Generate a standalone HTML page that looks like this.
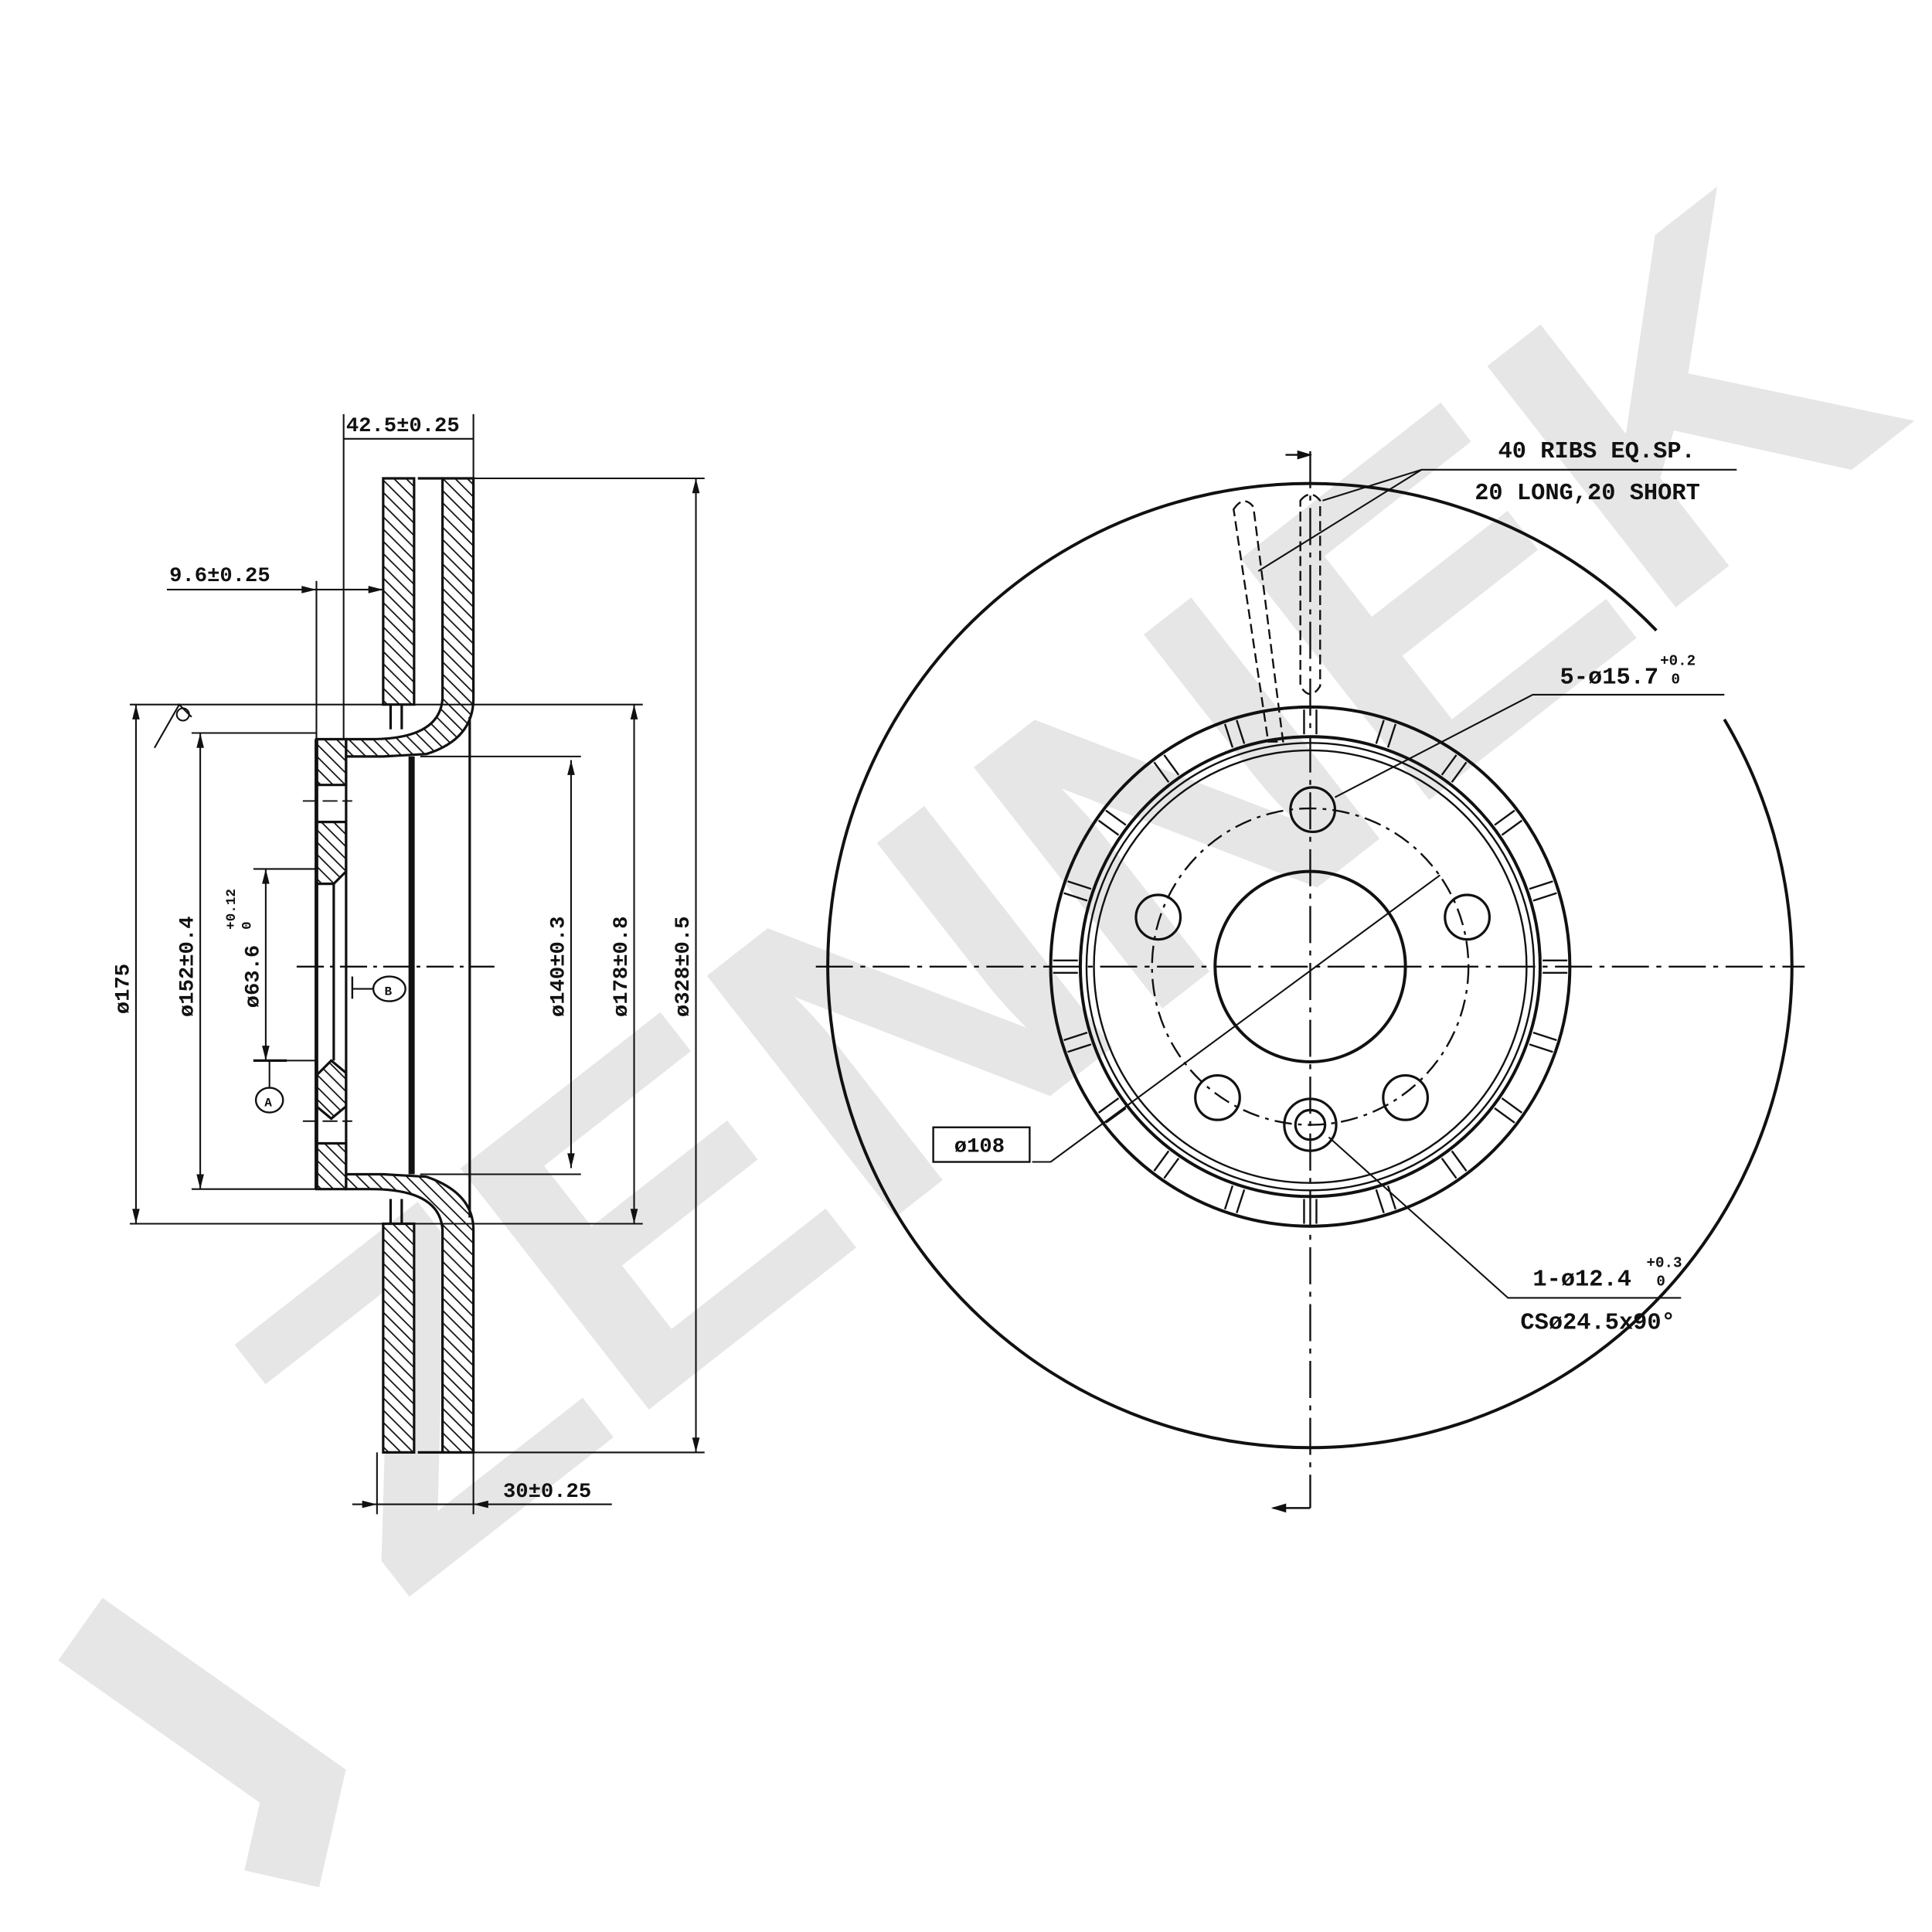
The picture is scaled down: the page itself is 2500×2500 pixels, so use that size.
<!DOCTYPE html>
<html><head><meta charset="utf-8"><style>
html,body{margin:0;padding:0;background:#fff}
svg{display:block}
text{font-family:"Liberation Mono","DejaVu Sans Mono",monospace;fill:#111}
</style></head><body>
<svg width="2500" height="2500" viewBox="0 0 1563 1563" xmlns="http://www.w3.org/2000/svg">
<defs>
<pattern id="h" width="7" height="7" patternUnits="userSpaceOnUse" patternTransform="rotate(-45)">
<rect width="7" height="7" fill="#fff"/><line x1="0" y1="0" x2="0" y2="7" stroke="#111" stroke-width="2.2"/>
</pattern>
</defs>
<!-- watermark -->
<text x="0" y="0" font-weight="bold" font-size="360" textLength="1560" lengthAdjust="spacingAndGlyphs" transform="translate(860,720) rotate(-38) translate(-780,125)" style="fill:#e6e6e6;font-family:'Liberation Sans',sans-serif">ZENNEK</text>
<polyline points="65,1318 245,1445 228,1520" fill="none" stroke="#e6e6e6" stroke-width="62"/>

<g stroke="#111" fill="none" stroke-width="2">
<path d="M310,387 H335 V570 H310 Z" fill="url(#h)"/>
<path d="M358,387 H383 V565 Q383,598 345,610 L310,612 H280 V598 H300 Q356,598 358,565 Z" fill="url(#h)"/>
<path d="M310,990 H335 V1175 H310 Z" fill="url(#h)"/>
<path d="M358,1175 H383 V995 Q383,965 345,952 L310,950 H280 V962 H300 Q356,962 358,995 Z" fill="url(#h)"/>
<path d="M256,598 H280 V635 H256 Z" fill="url(#h)"/>
<path d="M256,665 H280 V705 L270,715 H256 Z" fill="url(#h)"/>
<path d="M256,870 L268,858 L280,868 V895 L268,905 L256,895 Z" fill="url(#h)"/>
<path d="M256,925 H280 V962 H256 Z" fill="url(#h)"/>
<line x1="256" y1="598" x2="256" y2="962" stroke-width="3"/>
<line x1="280" y1="598" x2="280" y2="962"/>
<line x1="270" y1="715" x2="270" y2="858"/>
<line x1="333" y1="612" x2="333" y2="950" stroke-width="5"/>
<line x1="380" y1="580" x2="380" y2="985" stroke-width="2"/>
<line x1="316" y1="570" x2="316" y2="590"/><line x1="325" y1="570" x2="325" y2="590"/>
<line x1="316" y1="970" x2="316" y2="990"/><line x1="325" y1="970" x2="325" y2="990"/>
<line x1="338" y1="387" x2="358" y2="387"/><line x1="338" y1="1175" x2="358" y2="1175"/>
<line x1="240" y1="782" x2="400" y2="782" stroke-dasharray="22,5,3,5" stroke-width="1.5"/>
<line x1="245" y1="648" x2="285" y2="648" stroke-dasharray="12,4" stroke-width="1.2"/>
<line x1="245" y1="907" x2="285" y2="907" stroke-dasharray="12,4" stroke-width="1.2"/>
<line x1="278" y1="335" x2="278" y2="598" stroke-width="1.3"/>
<line x1="383" y1="335" x2="383" y2="387" stroke-width="1.3"/>
<line x1="383" y1="387" x2="570" y2="387" stroke-width="1.3"/>
<line x1="383" y1="1175" x2="570" y2="1175" stroke-width="1.3"/>
<line x1="105" y1="570" x2="520" y2="570" stroke-width="1.3"/>
<line x1="105" y1="990" x2="520" y2="990" stroke-width="1.3"/>
<line x1="155" y1="593" x2="256" y2="593" stroke-width="1.3"/>
<line x1="155" y1="962" x2="256" y2="962" stroke-width="1.3"/>
<line x1="340" y1="612" x2="470" y2="612" stroke-width="1.3"/>
<line x1="340" y1="950" x2="470" y2="950" stroke-width="1.3"/>
<line x1="205" y1="703" x2="256" y2="703" stroke-width="1.3"/>
<line x1="205" y1="858" x2="256" y2="858" stroke-width="1.3"/>
<line x1="256" y1="470" x2="256" y2="598" stroke-width="1.3"/>
<line x1="305" y1="1175" x2="305" y2="1225" stroke-width="1.3"/>
<line x1="383" y1="1175" x2="383" y2="1225" stroke-width="1.3"/>
<line x1="278" y1="355" x2="383" y2="355" stroke-width="1.3"/>
<line x1="135" y1="477" x2="310" y2="477" stroke-width="1.3"/>
<line x1="285" y1="1217" x2="495" y2="1217" stroke-width="1.3"/>
<line x1="110" y1="570" x2="110" y2="990" stroke-width="1.3"/>
<line x1="162" y1="593" x2="162" y2="962" stroke-width="1.3"/>
<line x1="215" y1="703" x2="215" y2="858" stroke-width="1.3"/>
<line x1="462" y1="615" x2="462" y2="945" stroke-width="1.3"/>
<line x1="513" y1="570" x2="513" y2="990" stroke-width="1.3"/>
<line x1="563" y1="387" x2="563" y2="1175" stroke-width="1.3"/>
<path d="M125,605 L145,570 L155,580" stroke-width="1.3"/>
<circle cx="148" cy="578" r="5" stroke-width="1.3"/>
<line x1="285" y1="790" x2="285" y2="808" stroke-width="1.5"/>
<line x1="285" y1="800" x2="302" y2="800" stroke-width="1.3"/>
<ellipse cx="315" cy="800" rx="13" ry="10" stroke-width="1.5"/>
<line x1="205" y1="858" x2="232" y2="858" stroke-width="2"/>
<line x1="218" y1="858" x2="218" y2="880" stroke-width="1.3"/>
<ellipse cx="218" cy="890" rx="11" ry="10" stroke-width="1.5"/>
</g>
<g fill="#111">
<polygon points="110,570 107,582 113,582"/><polygon points="110,990 107,978 113,978"/>
<polygon points="162,593 159,605 165,605"/><polygon points="162,962 159,950 165,950"/>
<polygon points="215,703 212,715 218,715"/><polygon points="215,858 212,846 218,846"/>
<polygon points="462,615 459,627 465,627"/><polygon points="462,945 459,933 465,933"/>
<polygon points="513,570 510,582 516,582"/><polygon points="513,990 510,978 516,978"/>
<polygon points="563,387 560,399 566,399"/><polygon points="563,1175 560,1163 566,1163"/>
<polygon points="256,477 244,474 244,480"/><polygon points="310,477 298,474 298,480"/>
<polygon points="305,1217 293,1214 293,1220"/><polygon points="383,1217 395,1214 395,1220"/>
</g>
<g font-size="17" font-weight="bold">
<text x="280" y="349">42.5±0.25</text>
<text x="137" y="470">9.6±0.25</text>
<text x="407" y="1211">30±0.25</text>
<text transform="translate(104,800) rotate(-90)" text-anchor="middle">ø175</text>
<text transform="translate(156,782) rotate(-90)" text-anchor="middle">ø152±0.4</text>
<text transform="translate(209,790) rotate(-90)" text-anchor="middle">ø63.6</text>
<text transform="translate(190,752) rotate(-90)" font-size="11">+0.12</text>
<text transform="translate(203,752) rotate(-90)" font-size="11">0</text>
<text transform="translate(456,782) rotate(-90)" text-anchor="middle">ø140±0.3</text>
<text transform="translate(507,782) rotate(-90)" text-anchor="middle">ø178±0.8</text>
<text transform="translate(557,782) rotate(-90)" text-anchor="middle">ø328±0.5</text>
<text x="311" y="805" font-size="10">B</text>
<text x="214" y="895" font-size="10">A</text>
</g>

<g stroke="#111" fill="none">
<path d="M1395,582 A390,390 0 1 1 1340,510" stroke-width="2.5"/>
<line x1="660" y1="782" x2="1460" y2="782" stroke-dasharray="30,6,4,6" stroke-width="1.5"/>
<line x1="1060" y1="365" x2="1060" y2="1220" stroke-dasharray="30,6,4,6" stroke-width="1.5"/>
<polyline points="1040,368 1060,368" stroke-width="1.5"/><polyline points="1030,1220 1060,1220" stroke-width="1.5"/>
<polygon points="1060,368 1050,365 1050,371" fill="#111"/>
<polygon points="1030,1220 1040,1217 1040,1223" fill="#111"/>
<circle cx="1060" cy="782" r="210" stroke-width="2.5"/>
<circle cx="1060" cy="782" r="186" stroke-width="2.5"/>
<circle cx="1060" cy="782" r="181" stroke-width="1.5"/>
<circle cx="1060" cy="782" r="175" stroke-width="1.5"/>
<circle cx="1060" cy="782" r="128" stroke-dasharray="14,5,3,5" stroke-width="1.5"/>
<circle cx="1060" cy="782" r="77" stroke-width="2.5"/>
<circle cx="1062" cy="655" r="18" stroke-width="2"/>
<circle cx="937" cy="742" r="18" stroke-width="2"/>
<circle cx="1187" cy="742" r="18" stroke-width="2"/>
<circle cx="985" cy="888" r="18" stroke-width="2"/>
<circle cx="1137" cy="888" r="18" stroke-width="2"/>
<circle cx="1060" cy="910" r="21" stroke-width="2"/>
<circle cx="1060" cy="910" r="12" stroke-width="2"/>
<path d="M1052,405 Q1060,395 1068,405 V555 Q1060,568 1052,555 Z" stroke-dasharray="8,4" stroke-width="1.5"/>
<path d="M998,412 Q1006,400 1014,410 L1038,600 L1026,600 Z" stroke-dasharray="8,4" stroke-width="1.5"/>
<polyline points="1405,380 1150,380 1018,462" stroke-width="1.3"/>
<line x1="1150" y1="380" x2="1070" y2="405" stroke-width="1.3"/>
<polyline points="1395,562 1240,562 1080,645" stroke-width="1.3"/>
<polyline points="1360,1050 1220,1050 1075,920" stroke-width="1.3"/>
<polyline points="1165,708 850,940 835,940" stroke-width="1.3"/>
<rect x="755" y="912" width="78" height="28" stroke-width="1.5"/>
</g>
<g font-size="19" font-weight="bold">
<text x="1212" y="370">40 RIBS EQ.SP.</text>
<text x="1193" y="404">20 LONG,20 SHORT</text>
<text x="1262" y="553">5-ø15.7</text>
<text x="1343" y="538" font-size="12">+0.2</text>
<text x="1352" y="553" font-size="12">0</text>
<text x="1240" y="1040">1-ø12.4</text>
<text x="1332" y="1025" font-size="12">+0.3</text>
<text x="1340" y="1040" font-size="12">0</text>
<text x="1230" y="1075">CSø24.5x90°</text>
<text x="772" y="932" font-size="17">ø108</text>
</g>
<g stroke="#111" stroke-width="1.5" fill="none">
<g transform="translate(1060,782)">
<g id="r"><path d="M-5,-188 V-208 M5,-188 V-208"/></g>
<use href="#r" transform="rotate(18)"/><use href="#r" transform="rotate(36)"/><use href="#r" transform="rotate(54)"/><use href="#r" transform="rotate(72)"/><use href="#r" transform="rotate(90)"/><use href="#r" transform="rotate(108)"/><use href="#r" transform="rotate(126)"/><use href="#r" transform="rotate(144)"/><use href="#r" transform="rotate(162)"/><use href="#r" transform="rotate(180)"/><use href="#r" transform="rotate(198)"/><use href="#r" transform="rotate(216)"/><use href="#r" transform="rotate(234)"/><use href="#r" transform="rotate(252)"/><use href="#r" transform="rotate(270)"/><use href="#r" transform="rotate(288)"/><use href="#r" transform="rotate(306)"/><use href="#r" transform="rotate(324)"/><use href="#r" transform="rotate(342)"/>
</g>
</g>
</svg>
</body></html>
